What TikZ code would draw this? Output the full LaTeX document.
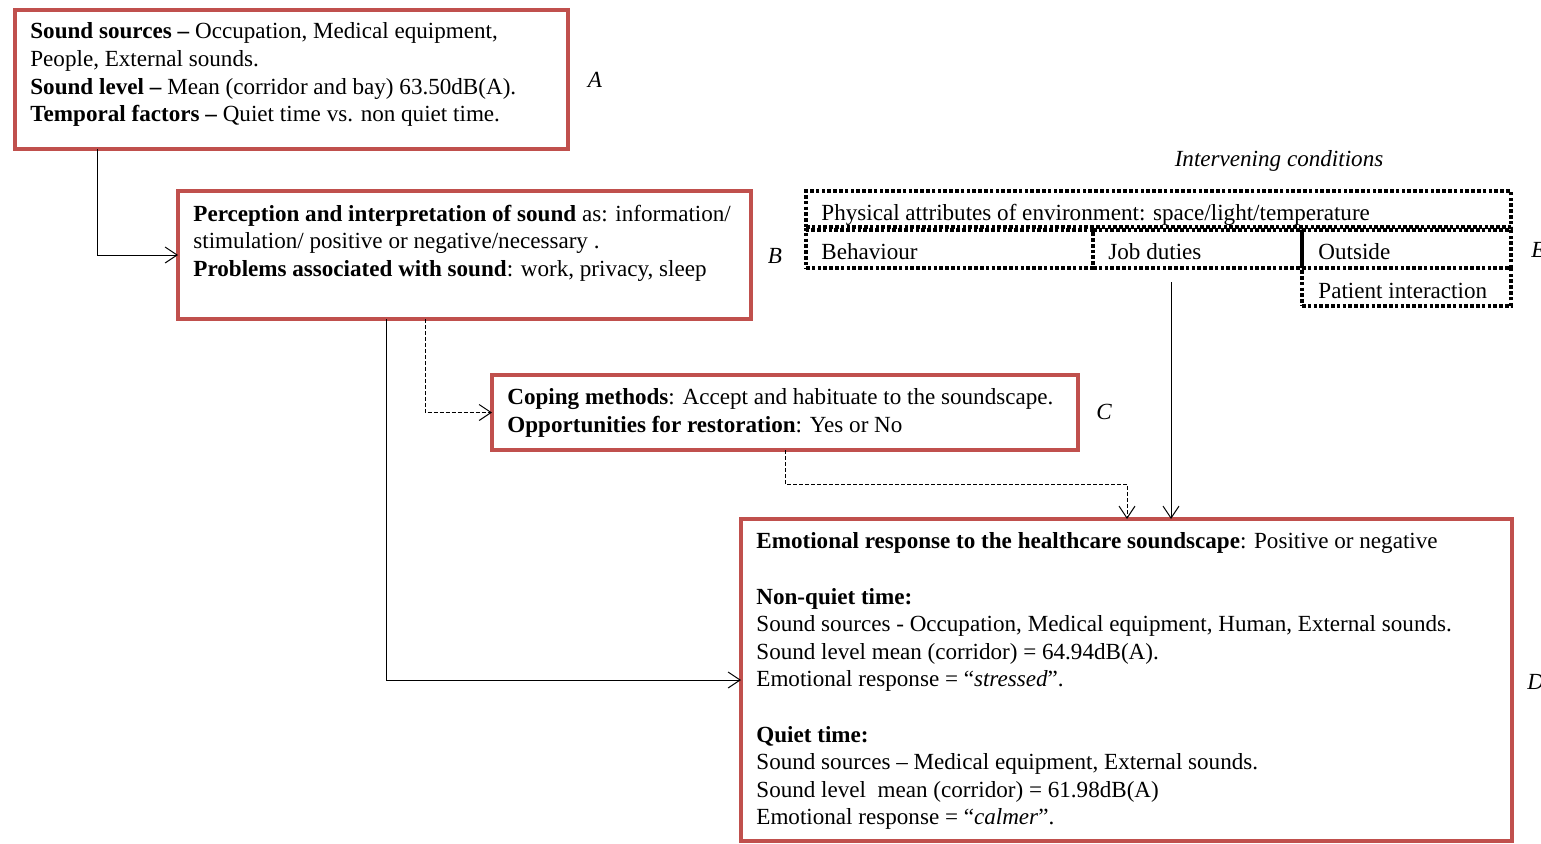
\documentclass[tikz,border=0pt]{standalone}
\usepackage{fontspec}
\setmainfont{Liberation Serif}
\usetikzlibrary{arrows.meta}
\definecolor{boxred}{HTML}{C0504D}
\begin{document}
\begin{tikzpicture}[x=0.5pt,y=-0.5pt,
  redbox/.style={draw=boxred, line width=2pt, inner sep=0pt, outer sep=0pt, anchor=north west},
  dotbox/.style={draw=black, line width=1.6pt, dash pattern=on 1.8pt off 1.1pt, inner sep=0pt, outer sep=0pt, anchor=north west},
  txt/.style={font=\fontsize{11.55}{13.8}\selectfont, align=left, inner sep=0pt, anchor=north west},
  lbl/.style={font=\fontsize{11.55}{13.8}\selectfont\itshape, inner sep=0pt},
  conn/.style={line width=0.5pt, -{Straight Barb[length=6pt,width=8pt]}},
  dconn/.style={conn, dash pattern=on 2pt off 1pt}]
\useasboundingbox (0,0) rectangle (1541,843);
% red boxes
\node[redbox, minimum width=276.5pt, minimum height=69.5pt] (A) at (15,10) {};
\node[redbox, minimum width=286.5pt, minimum height=64pt] (B) at (178,191) {};
\node[redbox, minimum width=293pt, minimum height=37.5pt] (C) at (492,375) {};
\node[redbox, minimum width=385.5pt, minimum height=161pt] (D) at (741,519) {};
% dotted boxes
\node[dotbox, minimum width=352.5pt, minimum height=18pt] (phys) at (806,191) {};
\node[dotbox, minimum width=143.5pt, minimum height=19pt] (beh) at (806,230) {};
\node[dotbox, minimum width=104.5pt, minimum height=19pt] (job) at (1093,230) {};
\node[dotbox, minimum width=104.5pt, minimum height=19pt] (out) at (1302,230) {};
\node[dotbox, minimum width=104.5pt, minimum height=19pt] (pat) at (1302,268) {};
% texts
\node[txt] (tA) at (30,22.5) {\textbf{Sound sources –} Occupation, Medical equipment,\\People, External sounds.\\\textbf{Sound level –} Mean (corridor and bay) 63.50dB(A).\\\textbf{Temporal factors –} Quiet time vs. non quiet time.};
\node[txt] (tB) at (193,204.5) {\textbf{Perception and interpretation of sound} as: information/\\stimulation/ positive or negative/necessary .\\\textbf{Problems associated with sound}: work, privacy, sleep};
\node[txt] (tC) at (507,388.5) {\textbf{Coping methods}: Accept and habituate to the soundscape.\\\textbf{Opportunities for restoration}: Yes or No};
\node[txt] (tD) at (756,532.5) {\textbf{Emotional response to the healthcare soundscape}: Positive or negative\\[13.8pt]
\textbf{Non-quiet time:}\\
Sound sources - Occupation, Medical equipment, Human, External sounds.\\
Sound level mean (corridor) = 64.94dB(A).\\
Emotional response = “\textit{stressed}”.\\[13.8pt]
\textbf{Quiet time:}\\
Sound sources – Medical equipment, External sounds.\\
Sound level\enspace mean (corridor) = 61.98dB(A)\\
Emotional response = “\textit{calmer}”.};
\node[txt] (tphys) at (821,204) {Physical attributes of environment: space/light/temperature};
\node[txt] (tbeh) at (821,243) {Behaviour};
\node[txt] (tjob) at (1108,243) {Job duties};
\node[txt] (tout) at (1318,243) {Outside};
\node[txt] (tpat) at (1318,283) {Patient interaction};
% labels
\node[lbl] (lA) at (595,80) {A};
\node[lbl] (lB) at (775,256) {B};
\node[lbl] (lC) at (1104,412) {C};
\node[lbl, anchor=west] (lD) at (1527,682) {D};
\node[lbl, anchor=west] (lE) at (1531,250) {E};
\node[lbl] (lI) at (1279,161) {Intervening conditions};
% connectors
\draw[conn] ([xshift=41pt]A.south west) |- (B.west);
\draw[conn] ([xshift=104pt]B.south west) |- (D.west);
\draw[dconn] ([xshift=123.5pt]B.south west) |- (C.west);
\draw[dconn] ([xshift=146.5pt]C.south west) -- ++(0,34) -| ([xshift=193pt]D.north west);
\coordinate (jd) at (1171,282);
\draw[conn] (jd) -- (jd |- D.north);
\end{tikzpicture}
\end{document}
